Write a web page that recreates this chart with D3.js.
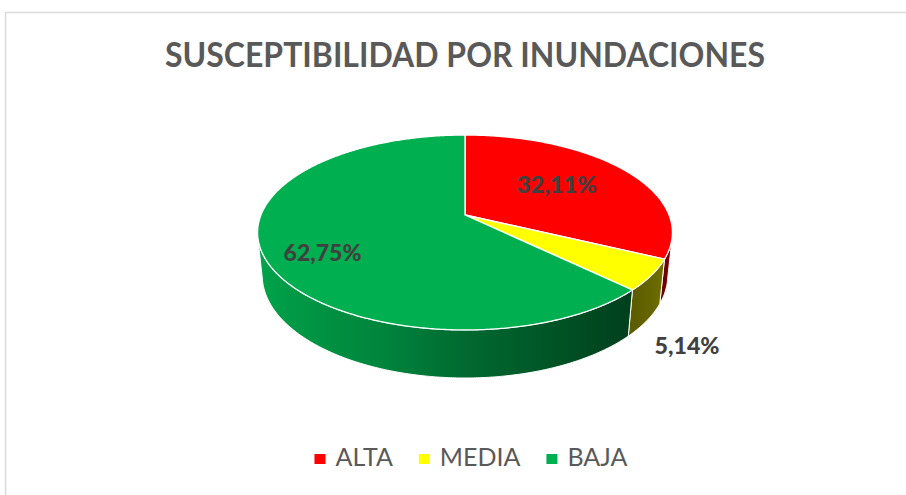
<!DOCTYPE html>
<html>
<head>
<meta charset="utf-8">
<script src="https://cdn.jsdelivr.net/npm/d3@7/dist/d3.min.js"></script>
<style>
  html, body { margin: 0; padding: 0; background: #fff; }
  svg { display: block; }
</style>
</head>
<body>
<svg id="chart" width="906" height="495"></svg>
<script>
// Susceptibility shares
const categories = ["ALTA", "MEDIA", "BAJA"];
const values = [32.11, 5.14, 62.75];
const valueLabels = ["32,11%", "5,14%", "62,75%"];
const sliceColors = ["#FF0000", "#FFFF00", "#00B050"];
const chartTitle = "SUSCEPTIBILIDAD POR INUNDACIONES";

const W = 906, H = 495;
const svg = d3.select("#chart");

// Frame
svg.append("rect")
  .attr("x", 5.5).attr("y", 12.5)
  .attr("width", W + 20).attr("height", H + 20)
  .attr("fill", "#fff")
  .attr("stroke", "#d9d9d9").attr("stroke-width", 1.5);

// Title
svg.append("text")
  .attr("x", 465).attr("y", 67)
  .attr("text-anchor", "middle")
  .attr("font-family", "Lato, 'Open Sans', sans-serif")
  .attr("font-weight", 700)
  .attr("font-size", 33.5)
  .attr("fill", "#595959")
  .attr("textLength", 600)
  .attr("lengthAdjust", "spacingAndGlyphs")
  .text(chartTitle);

// Perspective camera for the 3-D disc
const cam = {
  cx: 465, cy: 215,   // screen position of the disc centre
  f: 1008,            // focal length (px)
  D: 4.94,            // camera distance in disc radii
  tilt: Math.asin(0.4623),
  depth: 0.2378       // disc thickness in radii
};
const sT = Math.sin(cam.tilt), cT = Math.cos(cam.tilt);

// angle a: clockwise from 12 o'clock (d3.pie convention); r radius; y height
function project(a, r, y) {
  const x3 = r * Math.sin(a), z3 = -r * Math.cos(a);
  const v = y * cT - z3 * sT;
  const w = cam.D - (y * sT + z3 * cT);
  return [cam.cx + cam.f * x3 / w, cam.cy - cam.f * v / w];
}

function arcPoints(a0, a1, r, y) {
  const n = Math.max(2, Math.ceil(Math.abs(a1 - a0) / (Math.PI / 360)));
  return d3.range(n + 1).map(i => project(a0 + (a1 - a0) * i / n, r, y));
}

const pie = d3.pie().sort(null).value(d => d);
const arcs = pie(values);
const line = d3.line();

// Outer wall is visible where its normal faces the camera
const aVis0 = Math.acos(-1 / (cam.D * cT));
const aVis1 = 2 * Math.PI - aVis0;

// Wall brightness vs. angle around the disc
const deg = d => d * Math.PI / 180;
const shade = d3.scaleLinear()
  .domain([103, 125, 134, 150, 180, 200, 230, 257].map(deg))
  .range([0.50, 0.40, 0.36, 0.42, 0.60, 0.76, 0.88, 0.95])
  .clamp(true);

const defs = svg.append("defs");
const gWalls = svg.append("g");
const gTops = svg.append("g");

arcs.forEach((d, i) => {
  const a0 = Math.max(d.startAngle, aVis0);
  const a1 = Math.min(d.endAngle, aVis1);
  if (a1 <= a0) return;
  const top = arcPoints(a0, a1, 1, 0);
  const bot = arcPoints(a1, a0, 1, -cam.depth);
  const xs = top.map(p => p[0]);
  const xMin = d3.min(xs), xMax = d3.max(xs);
  const base = d3.rgb(sliceColors[i]);
  const grad = defs.append("linearGradient")
    .attr("id", "wall" + i)
    .attr("gradientUnits", "userSpaceOnUse")
    .attr("x1", xMin).attr("x2", xMax).attr("y1", 0).attr("y2", 0);
  const n = 24;
  const stops = d3.range(n + 1).map(k => {
    const a = a0 + (a1 - a0) * k / n;
    const x = project(a, 1, 0)[0];
    const b = shade(a);
    return {
      off: xMax > xMin ? (x - xMin) / (xMax - xMin) : 0,
      col: d3.rgb(base.r * b, base.g * b, base.b * b).formatHex()
    };
  }).sort((p, q) => p.off - q.off);
  stops.forEach(s => grad.append("stop").attr("offset", s.off).attr("stop-color", s.col));
  gWalls.append("path")
    .attr("d", line(top.concat(bot)) + "Z")
    .attr("fill", `url(#wall${i})`)
    .attr("stroke", "#fff").attr("stroke-width", 1)
    .attr("stroke-linejoin", "round");
});

// Top faces
arcs.forEach((d, i) => {
  const pts = [project(0, 0, 0)].concat(arcPoints(d.startAngle, d.endAngle, 1, 0));
  gTops.append("path")
    .attr("d", line(pts) + "Z")
    .attr("fill", sliceColors[i])
    .attr("stroke", "#fff").attr("stroke-width", 1.3)
    .attr("stroke-linejoin", "round");
});

// Value labels: radius (in disc radii), height, vertical nudge and text width
const labelPlacement = [
  { r: 0.56, y: 0, dy: -3, w: 80 },
  { r: 1.2, y: -0.3, dy: 0, w: 65 },
  { r: 0.72, y: 0, dy: 10, w: 78 }
];
const gLabels = svg.append("g")
  .attr("font-family", "Lato, 'Open Sans', sans-serif")
  .attr("font-weight", 900)
  .attr("font-size", 22.5)
  .attr("fill", "#404040")
  .attr("text-anchor", "middle");
arcs.forEach((d, i) => {
  const mid = (d.startAngle + d.endAngle) / 2;
  const pl = labelPlacement[i];
  const p = project(mid, pl.r, pl.y);
  gLabels.append("text")
    .attr("x", p[0]).attr("y", p[1] + pl.dy + 8)
    .attr("textLength", pl.w)
    .attr("lengthAdjust", "spacingAndGlyphs")
    .text(valueLabels[i]);
});

// Legend
const gLeg = svg.append("g")
  .attr("font-family", "Lato, 'Open Sans', sans-serif")
  .attr("font-size", 25)
  .attr("fill", "#595959");
const items = categories.map((c, i) => {
  const g = gLeg.append("g");
  g.append("rect").attr("width", 11).attr("height", 10).attr("y", -12).attr("fill", sliceColors[i]);
  const t = g.append("text").attr("x", 21).attr("y", 0).text(c);
  return { g, w: 21 + t.node().getComputedTextLength() };
});
const gap = 26;
const total = d3.sum(items, d => d.w) + gap * (items.length - 1);
let x = 471 - total / 2;
items.forEach(it => {
  it.g.attr("transform", `translate(${x},466)`);
  x += it.w + gap;
});
</script>
</body>
</html>
